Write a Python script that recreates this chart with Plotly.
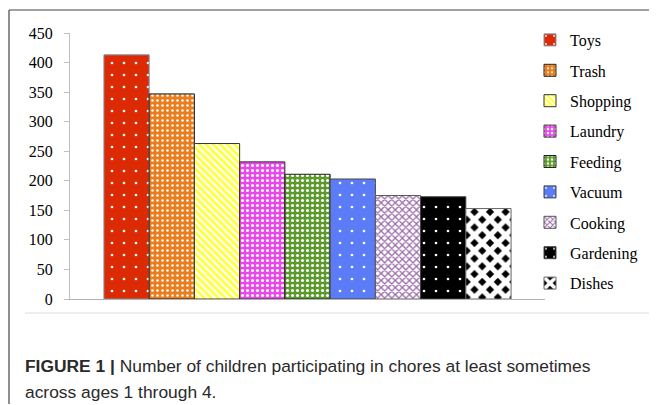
import plotly.graph_objects as go

chores = ["Toys", "Trash", "Shopping", "Laundry", "Feeding", "Vacuum", "Cooking", "Gardening", "Dishes"]
counts = [413, 347, 263, 232, 211, 203, 175, 173, 153]
y_ticks = [0, 50, 100, 150, 200, 250, 300, 350, 400, 450]

bg_colors = ["#dc2a04", "#ea7d1e", "#ffff3a", "#ea47ea", "#5b9b2b", "#5b7cf6", "#ffffff", "#000000", "#000000"]
fg_colors = ["#ffffff", "#ffffff", "#ffffff", "#ffffff", "#ffffff", "#ffffff", "#9a6aa8", "#ffffff", "#ffffff"]
shapes_p = [".", ".", "\\", ".", ".", ".", "x", ".", "x"]
sizes_p = [12, 5, 5, 5, 5, 12, 5, 12, 11]
solids = [0.04, 0.2, 0.45, 0.3, 0.3, 0.04, 0.45, 0.04, 0.72]
line_cols = ["#8090a8", "#222222", "#333333", "#333333", "#222222", "#444444", "#555555", "#444444", "#666666"]

fig = go.Figure()
for i, c in enumerate(chores):
    fig.add_trace(go.Bar(
        x=[c], y=[counts[i]], name=c, width=1,
        legendgroup=c,
        marker=dict(color=bg_colors[i],
                    line=dict(color=line_cols[i], width=1),
                    pattern=dict(shape=shapes_p[i], fgcolor=fg_colors[i], bgcolor=bg_colors[i],
                                 size=sizes_p[i], solidity=solids[i], fillmode="replace")),
    ))

# page body has an 8px margin, so figure coords = reference coords - 8
W, H = 649, 397
L, R, T, B = 62, 537, 25, 291
def px(x):
    return (x - L) / (R - L)
def py(y):
    return (B - y) / (B - T)

cap_font = dict(family="Liberation Sans, Arial", size=17.4, color="#2a2a2a")

fig.update_layout(
    width=W, height=H,
    margin=dict(l=L, r=W - R, t=T, b=H - B, autoexpand=False),
    paper_bgcolor="white", plot_bgcolor="white",
    barmode="overlay",
    showlegend=True,
    legend=dict(x=px(522), y=py(15), xanchor="left", yanchor="top",
                font=dict(family="Liberation Serif", size=16, color="black"),
                tracegroupgap=6.6, bgcolor="rgba(0,0,0,0)", maxheight=390),
    xaxis=dict(type="category", categoryorder="array", categoryarray=chores,
               range=[-1.25, 9.25], showticklabels=False, ticks="",
               showline=True, linecolor="#b0b0b0", linewidth=1, showgrid=False, zeroline=False),
    yaxis=dict(range=[0, 450], tickvals=y_ticks, showgrid=False, zeroline=False,
               showline=True, linecolor="#c0c0c0", linewidth=1,
               ticks="outside", ticklen=5, tickcolor="#c0c0c0", ticklabelstandoff=8,
               tickfont=dict(family="Liberation Serif", size=16, color="black")),
    shapes=[
        dict(type="line", xref="paper", yref="paper", x0=px(1), x1=px(1), y0=py(396), y1=py(2),
             line=dict(color="#444444", width=1.2)),
        dict(type="line", xref="paper", yref="paper", x0=px(1), x1=px(649), y0=py(2), y1=py(2),
             line=dict(color="#444444", width=1.2)),
        dict(type="line", xref="paper", yref="paper", x0=px(17), x1=px(649), y0=py(305), y1=py(305),
             line=dict(color="#dddddd", width=1)),
    ],
    annotations=[
        dict(xref="paper", yref="paper", x=px(15), y=py(358), xanchor="left", yanchor="middle",
             showarrow=False, align="left",
             text="<b>FIGURE 1 |</b> Number of children participating in chores at least sometimes",
             font=cap_font),
        dict(xref="paper", yref="paper", x=px(15), y=py(384), xanchor="left", yanchor="middle",
             showarrow=False, align="left",
             text="across ages 1 through 4.",
             font=cap_font),
    ],
)

fig.write_html("out.html")
